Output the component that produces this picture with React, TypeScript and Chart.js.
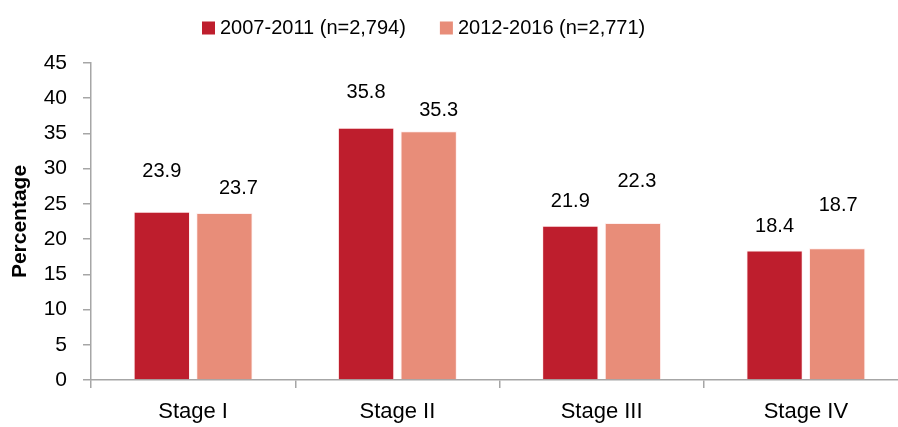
import React, { useEffect, useRef } from "react";
import { Chart, registerables } from "chart.js";

Chart.register(...registerables);

const categories = ["Stage I", "Stage II", "Stage III", "Stage IV"];
const seriesNames = ["2007-2011 (n=2,794)", "2012-2016 (n=2,771)"];
const values2007 = [23.9, 35.8, 21.9, 18.4];
const values2012 = [23.7, 35.3, 22.3, 18.7];
const yTicks = [0, 5, 10, 15, 20, 25, 30, 35, 40, 45];

const colors = ["#BE1E2D", "#E88D79"];
// label placement (style): vertical lift above bar top and horizontal nudge
const labelLift = [
  [40, 35, 24, 24],
  [25, 21, 41, 43],
];
const labelNudge = [
  [0, 0, 0, 0],
  [14, 10, 4, 1],
];

const FONT = "'Liberation Sans', Arial, sans-serif";
const AXIS = "#A6A6A6";

const valueLabels = {
  id: "valueLabels",
  afterDatasetsDraw(chart: any) {
    const ctx = chart.ctx;
    ctx.save();
    ctx.font = `20px ${FONT}`;
    ctx.fillStyle = "#000";
    ctx.textAlign = "center";
    ctx.textBaseline = "middle";
    chart.data.datasets.forEach((ds: any, di: number) => {
      const meta = chart.getDatasetMeta(di);
      meta.data.forEach((bar: any, i: number) => {
        const v = ds.data[i];
        ctx.fillText(v.toFixed(1), bar.x + labelNudge[di][i], bar.y - labelLift[di][i]);
      });
    });
    ctx.restore();
  },
};

const customLegend = {
  id: "customLegend",
  afterDraw(chart: any) {
    const ctx = chart.ctx;
    ctx.save();
    ctx.font = `20px ${FONT}`;
    ctx.textBaseline = "middle";
    ctx.textAlign = "left";
    let x = 202;
    const y = 28;
    chart.data.datasets.forEach((ds: any) => {
      ctx.fillStyle = ds.backgroundColor;
      ctx.fillRect(x, y - 6.5, 13, 13);
      ctx.fillStyle = "#000";
      ctx.fillText(ds.label, x + 18, y);
      x += 18 + ctx.measureText(ds.label).width + 34;
    });
    ctx.restore();
  },
};

export default function App() {
  const ref = useRef<HTMLCanvasElement>(null);
  useEffect(() => {
    if (!ref.current) return;
    const chart = new Chart(ref.current, {
      type: "bar",
      data: {
        labels: categories,
        datasets: [
          {
            label: seriesNames[0],
            data: values2007,
            backgroundColor: colors[0],
            borderColor: "rgba(255,235,235,0.8)",
            borderWidth: 1,
            categoryPercentage: 0.613,
            barPercentage: 0.9,
          },
          {
            label: seriesNames[1],
            data: values2012,
            backgroundColor: colors[1],
            borderColor: "rgba(255,235,235,0.8)",
            borderWidth: 1,
            categoryPercentage: 0.613,
            barPercentage: 0.9,
          },
        ],
      },
      options: {
        responsive: false,
        animation: false,
        layout: { padding: { top: 63, right: 3, left: 0, bottom: 0 } },
        plugins: {
          legend: { display: false },
          tooltip: { enabled: false },
        },
        scales: {
          x: {
            grid: {
              offset: true,
              drawOnChartArea: false,
              drawTicks: true,
              tickLength: 8,
              color: AXIS,
              lineWidth: 1.5,
            },
            border: { display: true, color: AXIS, width: 1.5 },
            ticks: {
              color: "#000",
              font: { family: FONT, size: 22 },
              padding: 11,
              maxRotation: 0,
            },
            afterFit(scale: any) {
              scale.height = 47;
            },
          },
          y: {
            min: 0,
            max: 45,
            afterBuildTicks(scale: any) {
              scale.ticks = yTicks.map((v) => ({ value: v }));
            },
            grid: {
              drawOnChartArea: false,
              drawTicks: true,
              tickLength: 8,
              color: AXIS,
              lineWidth: 1.5,
            },
            border: { display: true, color: AXIS, width: 1.5 },
            ticks: {
              color: "#000",
              font: { family: FONT, size: 21 },
              padding: 16,
            },
            title: {
              display: true,
              text: "Percentage",
              color: "#000",
              font: { family: FONT, size: 21, weight: "bold" },
              padding: { top: 8, bottom: 0 },
            },
            afterFit(scale: any) {
              scale.width = 91;
            },
          },
        },
      },
      plugins: [valueLabels, customLegend],
    });
    return () => chart.destroy();
  }, []);
  return (
    <div
      style={{
        position: "fixed",
        left: 0,
        top: 0,
        width: 898,
        height: 427,
        overflow: "hidden",
        background: "#fff",
      }}
    >
      <canvas ref={ref} width={911} height={427} style={{ display: "block" }} />
    </div>
  );
}
